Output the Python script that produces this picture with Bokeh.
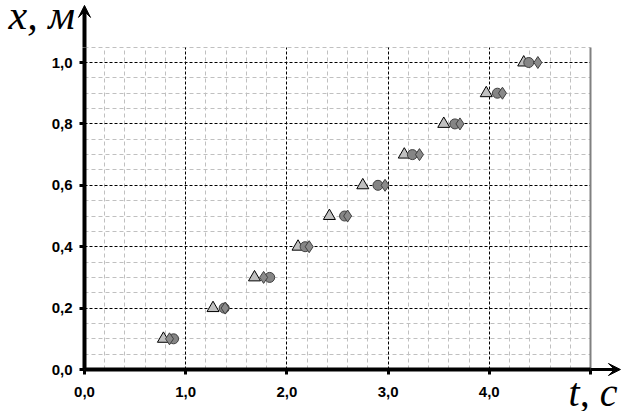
from bokeh.plotting import figure
from bokeh.models import FixedTicker, Grid, Arrow, VeeHead, Label, Range1d
from bokeh.embed import file_html
from bokeh.resources import INLINE

# distance rows (m)
x_values = [0.1, 0.2, 0.3, 0.4, 0.5, 0.6, 0.7, 0.8, 0.9, 1.0]
# times (s) for the three series
t_triangle = [0.78, 1.27, 1.68, 2.11, 2.42, 2.75, 3.16, 3.55, 3.97, 4.34]
t_circle = [0.88, 1.38, 1.83, 2.18, 2.57, 2.90, 3.24, 3.66, 4.08, 4.39]
t_diamond = [0.84, 1.39, 1.77, 2.22, 2.60, 2.97, 3.31, 3.71, 4.13, 4.48]

x_ticks = [0, 1, 2, 3, 4, 5]
x_tick_labels = ["0,0", "1,0", "2,0", "3,0", "4,0", ""]
y_ticks = [0.0, 0.2, 0.4, 0.6, 0.8, 1.0]
y_tick_labels = ["0,0", "0,2", "0,4", "0,6", "0,8", "1,0"]

x_major_grid = [1, 2, 3, 4]
x_minor_grid = [0.2, 0.4, 0.6, 0.8, 1.2, 1.4, 1.6, 1.8, 2.2, 2.4, 2.6, 2.8,
                3.2, 3.4, 3.6, 3.8, 4.2, 4.4, 4.6, 4.8]
y_major_grid = [0.2, 0.4, 0.6, 0.8, 1.0]
y_minor_grid = [0.05, 0.1, 0.15, 0.25, 0.3, 0.35, 0.45, 0.5, 0.55, 0.65, 0.7,
                0.75, 0.85, 0.9, 0.95, 1.05]
grid_x_end = 5.0
grid_y_end = 1.05
x_arrow_tip = 5.296
y_arrow_tip = 1.186

TITLE_FONT = "'Liberation Serif', 'Times New Roman', serif"

p = figure(width=624, height=411, output_backend="svg", toolbar_location=None,
           x_range=Range1d(-0.830, 5.336), y_range=Range1d(-0.1368, 1.2020),
           min_border=0)
p.outline_line_color = None
p.background_fill_color = "white"
p.border_fill_color = "white"
p.xgrid.visible = False
p.ygrid.visible = False

# minor grids
p.add_layout(Grid(dimension=0, ticker=FixedTicker(ticks=x_minor_grid),
                  grid_line_color="#c0c0c0", grid_line_dash="4 3",
                  grid_line_width=1, cross_bounds=(0, grid_y_end)))
p.add_layout(Grid(dimension=1, ticker=FixedTicker(ticks=y_minor_grid),
                  grid_line_color="#c0c0c0", grid_line_dash="4 3",
                  grid_line_width=1, cross_bounds=(0, grid_x_end)))
# major grids
p.add_layout(Grid(dimension=0, ticker=FixedTicker(ticks=x_major_grid),
                  grid_line_color="black", grid_line_dash="3 2",
                  grid_line_width=1, cross_bounds=(0, grid_y_end)))
p.add_layout(Grid(dimension=1, ticker=FixedTicker(ticks=y_major_grid),
                  grid_line_color="black", grid_line_dash="3 2",
                  grid_line_width=1, cross_bounds=(0, grid_x_end)))
# right edge of grid area
p.add_layout(Grid(dimension=0, ticker=FixedTicker(ticks=[grid_x_end]),
                  grid_line_color="#808080", grid_line_width=2,
                  cross_bounds=(0, grid_y_end)))

for ax, ticks, labels, standoff, bounds in (
        (p.xaxis[0], x_ticks, x_tick_labels, 12, (0, grid_x_end)),
        (p.yaxis[0], y_ticks, y_tick_labels, 7, (0, grid_y_end))):
    ax.fixed_location = 0
    ax.bounds = bounds
    ax.ticker = FixedTicker(ticks=ticks)
    ax.major_label_overrides = dict(zip(ticks, labels))
    ax.axis_line_width = 4
    ax.axis_line_color = "black"
    ax.major_tick_line_width = 3
    ax.major_tick_line_color = "black"
    ax.major_tick_out = 5
    ax.major_tick_in = 0
    ax.minor_tick_line_color = None
    ax.major_label_text_font = "Liberation Sans"
    ax.major_label_text_font_style = "bold"
    ax.major_label_text_font_size = "15px"
    ax.major_label_text_color = "black"
    ax.major_label_standoff = standoff

# axis arrows
p.add_layout(Arrow(end=VeeHead(size=12, fill_color="black", line_color="black", line_width=1),
                   x_start=grid_x_end, y_start=0, x_end=x_arrow_tip, y_end=0,
                   line_color="black", line_width=3))
p.add_layout(Arrow(end=VeeHead(size=12, fill_color="black", line_color="black", line_width=1),
                   x_start=0, y_start=grid_y_end, x_end=0, y_end=y_arrow_tip,
                   line_color="black", line_width=4))

# data points
p.scatter(t_triangle, x_values, marker="triangle", size=12,
          fill_color="#c0c0c0", line_color="black", line_width=1)
p.scatter(t_circle, x_values, marker="circle", size=10,
          fill_color="#858585", line_color="#404040", line_width=1)
p.scatter(t_diamond, x_values, marker="diamond", size=12,
          fill_color="#8a8a8a", line_color="#404040", line_width=1)

# axis titles
p.add_layout(Label(x=-0.751, y=1.156, text="x, м", text_font=TITLE_FONT,
                   text_font_style="italic", text_font_size="42px",
                   text_baseline="alphabetic", text_align="left", text_color="black"))
p.add_layout(Label(x=4.783, y=-0.0755, text="t, c", text_font=TITLE_FONT,
                   text_font_style="italic", text_font_size="40px",
                   text_baseline="alphabetic", text_align="left", text_color="black"))

open("out.html", "w").write(file_html(p, INLINE))
